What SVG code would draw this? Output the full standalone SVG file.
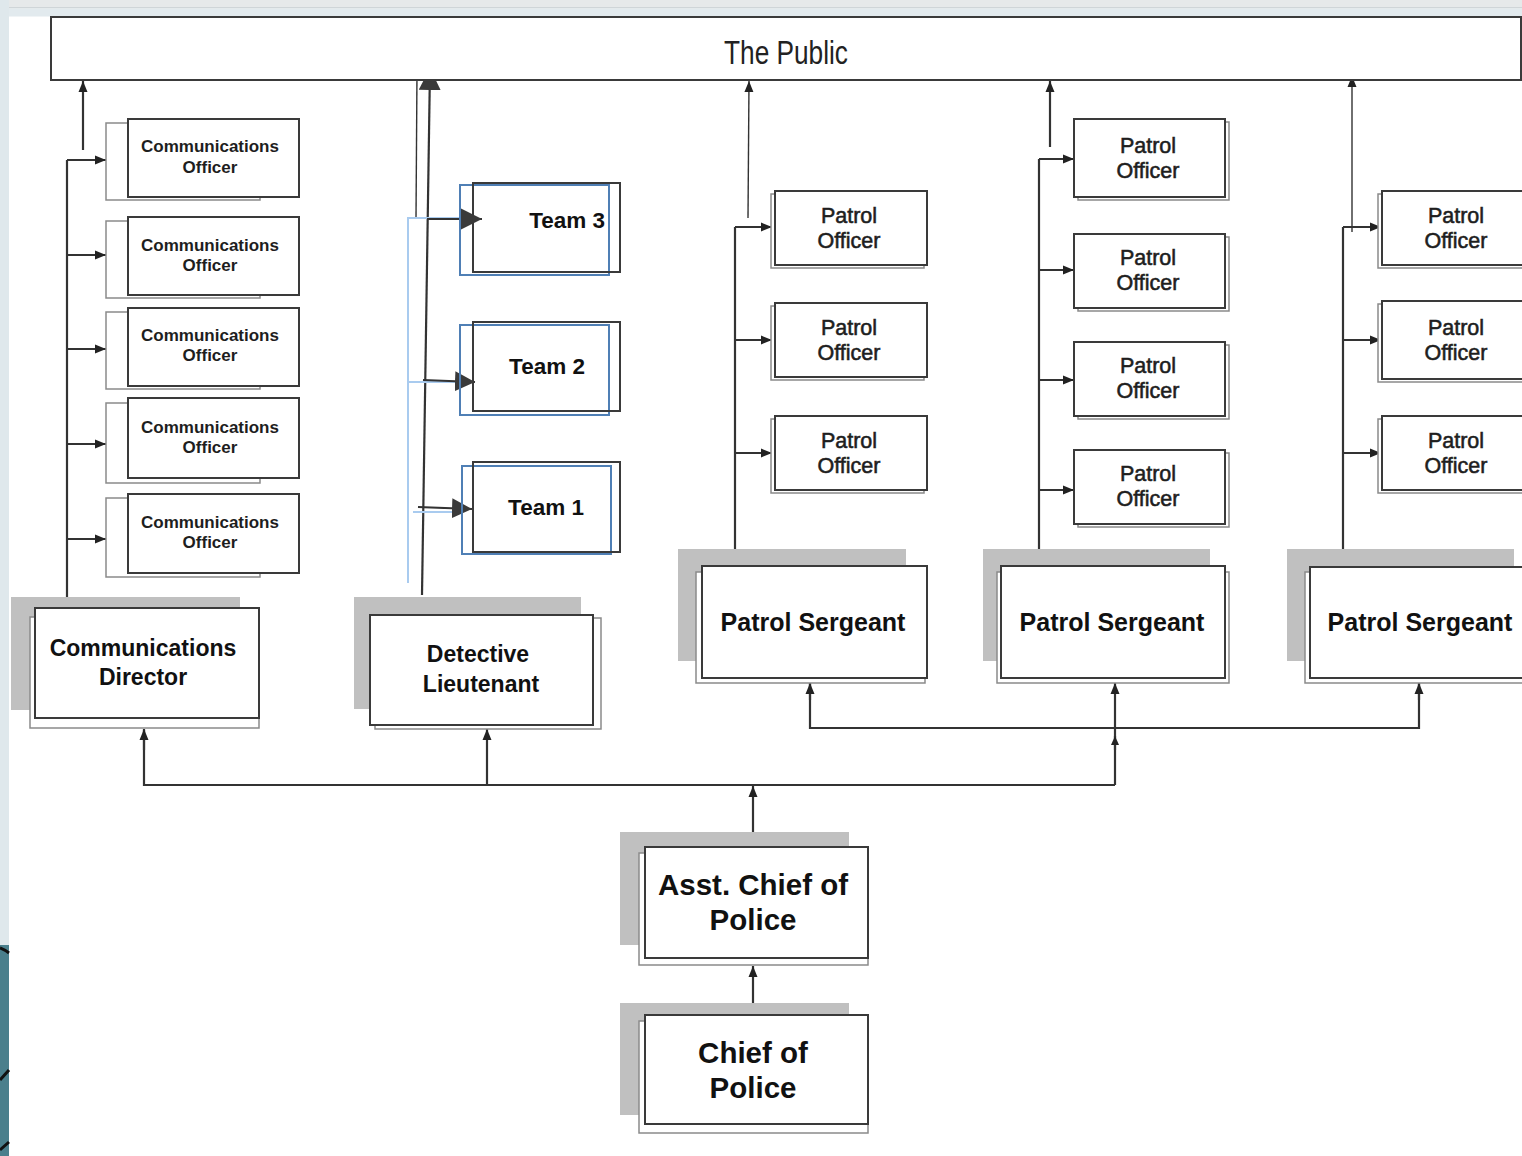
<svg xmlns="http://www.w3.org/2000/svg" width="1522" height="1156" viewBox="0 0 1522 1156">
<defs>
<marker id="ah" markerWidth="12" markerHeight="12" refX="11" refY="5" orient="auto" markerUnits="userSpaceOnUse"><path d="M0,0.5 L11,5 L0,9.5 z" fill="#222"/></marker>
<marker id="ahs" markerWidth="10" markerHeight="10" refX="9" refY="4.5" orient="auto" markerUnits="userSpaceOnUse"><path d="M0,0.5 L9,4.5 L0,8.5 z" fill="#222"/></marker>
<marker id="ahb" markerWidth="24" markerHeight="24" refX="22" refY="11" orient="auto" markerUnits="userSpaceOnUse"><path d="M0,0 L22,11 L0,22 z" fill="#3a3a3a"/></marker>
<marker id="ahm" markerWidth="22" markerHeight="22" refX="20" refY="10" orient="auto" markerUnits="userSpaceOnUse"><path d="M0,0 L20,10 L0,20 z" fill="#3a3a3a"/></marker>
</defs>
<style>
.box{fill:#ffffff;stroke:#3a3a3a;stroke-width:2}
.back{fill:#ffffff;stroke:#8a8a8a;stroke-width:1.5}
.shadow{fill:#c0c0c0}
.blue{fill:none;stroke:#4f7fb5;stroke-width:2}
.ln{fill:none;stroke:#333;stroke-width:2.2}
.lnt{fill:none;stroke:#333;stroke-width:1.4}
.lb{fill:none;stroke:#a9cbef;stroke-width:2}
.t-co{font-family:"Liberation Sans",Arial,sans-serif;font-weight:bold;font-size:17px;fill:#1e1e1e;text-anchor:middle}
.t-big{font-family:"Liberation Sans",Arial,sans-serif;font-weight:bold;font-size:23px;fill:#111;text-anchor:middle}
.t-ps{font-family:"Liberation Sans",Arial,sans-serif;font-weight:bold;font-size:25px;fill:#111;text-anchor:middle}
.t-po{font-family:"Liberation Sans",Arial,sans-serif;font-size:21.5px;fill:#1e1e1e;stroke:#1e1e1e;stroke-width:0.55;text-anchor:middle}
.t-team{font-family:"Liberation Sans",Arial,sans-serif;font-weight:bold;font-size:22.5px;fill:#111;text-anchor:middle}
.t-chief{font-family:"Liberation Sans",Arial,sans-serif;font-weight:bold;font-size:29.5px;fill:#111;text-anchor:middle}
.t-pub{font-family:"Liberation Sans Narrow","Liberation Sans",Arial,sans-serif;font-size:34px;fill:#222;text-anchor:middle}
</style>
<rect x="0" y="0" width="1522" height="1156" fill="#ffffff"/>
<rect x="0" y="0" width="1522" height="8" fill="#e6e9ea"/>
<rect x="0" y="7" width="1522" height="1.5" fill="#cfd5d8"/>
<rect x="0" y="8.5" width="1522" height="8" fill="#e2eaee"/>
<rect x="0" y="0" width="9" height="1156" fill="#dfe8ec"/>
<rect x="0" y="945" width="9" height="211" fill="#4a7f8c"/>
<path d="M0,948 Q5,950 9,953 M0,1080 L9,1070 M0,1150 L9,1142" stroke="#111" stroke-width="3" fill="none"/>

<g id="connectors">
  <line class="ln" x1="83" y1="150" x2="83" y2="81" marker-end="url(#ah)"/>
  <line class="lnt" x1="416" y1="218" x2="417" y2="71" marker-end="url(#ahs)"/>
  <line class="ln" x1="422" y1="595" x2="430" y2="68" marker-end="url(#ahb)"/>
  <line class="lnt" x1="748" y1="218" x2="749" y2="81" marker-end="url(#ah)"/>
  <line class="ln" x1="1050" y1="147" x2="1050" y2="81" marker-end="url(#ah)"/>
  <line class="lnt" x1="1352" y1="232" x2="1352" y2="76" marker-end="url(#ah)"/>
  <polyline class="ln" points="67,608 67,160"/>
  <line class="ln" x1="67" y1="160" x2="106" y2="160" marker-end="url(#ah)"/>
  <line class="ln" x1="67" y1="255" x2="106" y2="255" marker-end="url(#ah)"/>
  <line class="ln" x1="67" y1="349" x2="106" y2="349" marker-end="url(#ah)"/>
  <line class="ln" x1="67" y1="444" x2="106" y2="444" marker-end="url(#ah)"/>
  <line class="ln" x1="67" y1="539" x2="106" y2="539" marker-end="url(#ah)"/>
  <polyline class="lb" points="408,583 408,218 460,218"/>
  <line class="lb" x1="408" y1="382" x2="460" y2="382"/>
  <line class="lb" x1="413" y1="512" x2="460" y2="512"/>
  <line class="ln" x1="427" y1="219" x2="482" y2="219" marker-end="url(#ahb)"/>
  <line class="ln" x1="423" y1="380" x2="475" y2="382" marker-end="url(#ahm)"/>
  <line class="ln" x1="418" y1="507" x2="472" y2="509" marker-end="url(#ahm)"/>
  <polyline class="ln" points="735,566 735,227"/>
  <line class="ln" x1="735" y1="227" x2="772" y2="227" marker-end="url(#ah)"/>
  <line class="ln" x1="735" y1="340" x2="772" y2="340" marker-end="url(#ah)"/>
  <line class="ln" x1="735" y1="453" x2="772" y2="453" marker-end="url(#ah)"/>
  <polyline class="ln" points="1039,549 1039,159"/>
  <line class="ln" x1="1039" y1="159" x2="1074" y2="159" marker-end="url(#ah)"/>
  <line class="ln" x1="1039" y1="270" x2="1074" y2="270" marker-end="url(#ah)"/>
  <line class="ln" x1="1039" y1="380" x2="1074" y2="380" marker-end="url(#ah)"/>
  <line class="ln" x1="1039" y1="490" x2="1074" y2="490" marker-end="url(#ah)"/>
  <polyline class="ln" points="1343,567 1343,227"/>
  <line class="ln" x1="1343" y1="227" x2="1381" y2="227" marker-end="url(#ah)"/>
  <line class="ln" x1="1343" y1="340" x2="1381" y2="340" marker-end="url(#ah)"/>
  <line class="ln" x1="1343" y1="453" x2="1381" y2="453" marker-end="url(#ah)"/>
  <line class="ln" x1="1115" y1="785" x2="1115" y2="683" marker-end="url(#ah)"/>
  <line class="ln" x1="1115" y1="750" x2="1115" y2="736" marker-end="url(#ahs)"/>
  <polyline class="ln" points="810,683 810,728 1419,728 1419,683"/>
  <line class="ln" x1="810" y1="700" x2="810" y2="683" marker-end="url(#ah)"/>
  <line class="ln" x1="1419" y1="700" x2="1419" y2="683" marker-end="url(#ah)"/>
  <polyline class="ln" points="144,730 144,785 1115,785"/>
  <line class="ln" x1="144" y1="750" x2="144" y2="729" marker-end="url(#ah)"/>
  <line class="ln" x1="487" y1="785" x2="487" y2="729" marker-end="url(#ah)"/>
  <line class="ln" x1="753" y1="847" x2="753" y2="786" marker-end="url(#ah)"/>
  <line class="ln" x1="753" y1="1014" x2="753" y2="966" marker-end="url(#ah)"/>
</g>

<g id="the-public">
  <rect class="box" x="51" y="17" width="1470" height="63"/>
  <text class="t-pub" x="786" y="64" textLength="124" lengthAdjust="spacingAndGlyphs">The Public</text>
</g>

<g id="comm-officer-1">
  <rect class="back" x="106" y="123" width="154" height="77"/>
  <rect class="box" x="128" y="119" width="171" height="78"/>
  <text class="t-co" x="210" y="152">Communications</text>
  <text class="t-co" x="210" y="173">Officer</text>
</g>
<g id="comm-officer-2">
  <rect class="back" x="106" y="221" width="154" height="77"/>
  <rect class="box" x="128" y="217" width="171" height="78"/>
  <text class="t-co" x="210" y="251">Communications</text>
  <text class="t-co" x="210" y="271">Officer</text>
</g>
<g id="comm-officer-3">
  <rect class="back" x="106" y="312" width="154" height="77"/>
  <rect class="box" x="128" y="308" width="171" height="78"/>
  <text class="t-co" x="210" y="341">Communications</text>
  <text class="t-co" x="210" y="361">Officer</text>
</g>
<g id="comm-officer-4">
  <rect class="back" x="106" y="403" width="154" height="80"/>
  <rect class="box" x="128" y="398" width="171" height="80"/>
  <text class="t-co" x="210" y="433">Communications</text>
  <text class="t-co" x="210" y="453">Officer</text>
</g>
<g id="comm-officer-5">
  <rect class="back" x="106" y="498" width="154" height="79"/>
  <rect class="box" x="128" y="494" width="171" height="79"/>
  <text class="t-co" x="210" y="528">Communications</text>
  <text class="t-co" x="210" y="548">Officer</text>
</g>

<g id="communications-director">
  <rect class="shadow" x="11" y="597" width="229" height="113"/>
  <rect class="back" x="30" y="617" width="229" height="111"/>
  <rect class="box" x="35" y="608" width="224" height="110"/>
  <text class="t-big" x="143" y="656">Communications</text>
  <text class="t-big" x="143" y="685">Director</text>
</g>

<g id="team-3">
  <rect class="blue" x="460" y="185" width="149" height="90"/>
  <rect class="box" x="473" y="183" width="147" height="89" style="fill:none"/>
  <text class="t-team" x="605" y="228" style="text-anchor:end">Team 3</text>
</g>
<g id="team-2">
  <rect class="blue" x="460" y="325" width="149" height="90"/>
  <rect class="box" x="473" y="322" width="147" height="89" style="fill:none"/>
  <text class="t-team" x="547" y="374">Team 2</text>
</g>
<g id="team-1">
  <rect class="blue" x="462" y="466" width="149" height="88"/>
  <rect class="box" x="473" y="462" width="147" height="90" style="fill:none"/>
  <text class="t-team" x="546" y="515">Team 1</text>
</g>

<g id="detective-lieutenant">
  <rect class="shadow" x="354" y="597" width="227" height="112"/>
  <rect class="back" x="375" y="618" width="226" height="111"/>
  <rect class="box" x="370" y="615" width="223" height="110"/>
  <text class="t-big" x="478" y="662">Detective</text>
  <text class="t-big" x="481" y="692">Lieutenant</text>
</g>

<g id="patrol-officer-1-1">
  <rect class="back" x="771" y="194" width="153" height="74"/>
  <rect class="box" x="775" y="191" width="152" height="74"/>
  <text class="t-po" x="849" y="223">Patrol</text>
  <text class="t-po" x="849" y="248">Officer</text>
</g>
<g id="patrol-officer-1-2">
  <rect class="back" x="771" y="306" width="153" height="74"/>
  <rect class="box" x="775" y="303" width="152" height="74"/>
  <text class="t-po" x="849" y="335">Patrol</text>
  <text class="t-po" x="849" y="360">Officer</text>
</g>
<g id="patrol-officer-1-3">
  <rect class="back" x="771" y="419" width="153" height="74"/>
  <rect class="box" x="775" y="416" width="152" height="74"/>
  <text class="t-po" x="849" y="448">Patrol</text>
  <text class="t-po" x="849" y="473">Officer</text>
</g>

<g id="patrol-sergeant-1">
  <rect class="shadow" x="678" y="549" width="228" height="112"/>
  <rect class="back" x="696" y="572" width="229" height="111"/>
  <rect class="box" x="702" y="566" width="225" height="112"/>
  <text class="t-ps" x="813" y="631">Patrol Sergeant</text>
</g>

<g id="patrol-officer-2-1">
  <rect class="back" x="1078" y="122" width="151" height="78"/>
  <rect class="box" x="1074" y="119" width="151" height="78"/>
  <text class="t-po" x="1148" y="153">Patrol</text>
  <text class="t-po" x="1148" y="178">Officer</text>
</g>
<g id="patrol-officer-2-2">
  <rect class="back" x="1078" y="237" width="151" height="74"/>
  <rect class="box" x="1074" y="234" width="151" height="74"/>
  <text class="t-po" x="1148" y="265">Patrol</text>
  <text class="t-po" x="1148" y="290">Officer</text>
</g>
<g id="patrol-officer-2-3">
  <rect class="back" x="1078" y="345" width="151" height="74"/>
  <rect class="box" x="1074" y="342" width="151" height="74"/>
  <text class="t-po" x="1148" y="373">Patrol</text>
  <text class="t-po" x="1148" y="398">Officer</text>
</g>
<g id="patrol-officer-2-4">
  <rect class="back" x="1078" y="453" width="151" height="74"/>
  <rect class="box" x="1074" y="450" width="151" height="74"/>
  <text class="t-po" x="1148" y="481">Patrol</text>
  <text class="t-po" x="1148" y="506">Officer</text>
</g>

<g id="patrol-sergeant-2">
  <rect class="shadow" x="983" y="549" width="227" height="112"/>
  <rect class="back" x="997" y="572" width="232" height="111"/>
  <rect class="box" x="1001" y="566" width="224" height="112"/>
  <text class="t-ps" x="1112" y="631">Patrol Sergeant</text>
</g>

<g id="patrol-officer-3-1">
  <rect class="back" x="1378" y="194" width="150" height="74"/>
  <rect class="box" x="1382" y="191" width="150" height="74"/>
  <text class="t-po" x="1456" y="223">Patrol</text>
  <text class="t-po" x="1456" y="248">Officer</text>
</g>
<g id="patrol-officer-3-2">
  <rect class="back" x="1378" y="304" width="150" height="78"/>
  <rect class="box" x="1382" y="301" width="150" height="78"/>
  <text class="t-po" x="1456" y="335">Patrol</text>
  <text class="t-po" x="1456" y="360">Officer</text>
</g>
<g id="patrol-officer-3-3">
  <rect class="back" x="1378" y="419" width="150" height="74"/>
  <rect class="box" x="1382" y="416" width="150" height="74"/>
  <text class="t-po" x="1456" y="448">Patrol</text>
  <text class="t-po" x="1456" y="473">Officer</text>
</g>

<g id="patrol-sergeant-3">
  <rect class="shadow" x="1287" y="549" width="227" height="112"/>
  <rect class="back" x="1305" y="572" width="230" height="111"/>
  <rect class="box" x="1310" y="567" width="225" height="111"/>
  <text class="t-ps" x="1420" y="631">Patrol Sergeant</text>
</g>

<g id="asst-chief">
  <rect class="shadow" x="620" y="832" width="229" height="113"/>
  <rect class="back" x="639" y="853" width="229" height="112"/>
  <rect class="box" x="645" y="847" width="223" height="111"/>
  <text class="t-chief" x="753" y="895">Asst. Chief of</text>
  <text class="t-chief" x="753" y="930">Police</text>
</g>

<g id="chief">
  <rect class="shadow" x="620" y="1003" width="229" height="112"/>
  <rect class="back" x="639" y="1021" width="229" height="112"/>
  <rect class="box" x="645" y="1015" width="223" height="109"/>
  <text class="t-chief" x="753" y="1063">Chief of</text>
  <text class="t-chief" x="753" y="1098">Police</text>
</g>
</svg>
